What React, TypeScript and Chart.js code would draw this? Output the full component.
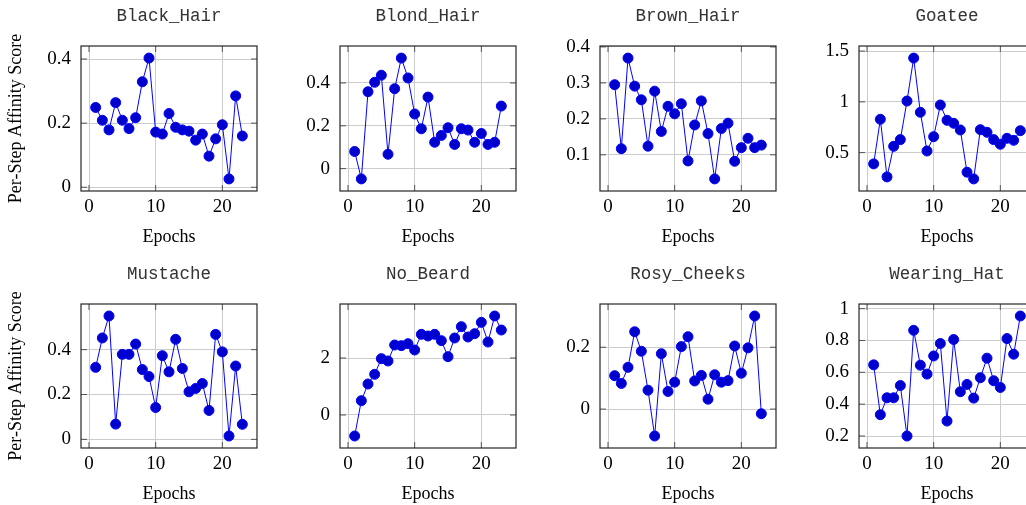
import React, { useEffect, useRef } from "react";
import { Chart, registerables } from "chart.js";

Chart.register(...registerables);

// ---------- data ----------
const epochs = [1, 2, 3, 4, 5, 6, 7, 8, 9, 10, 11, 12, 13, 14, 15, 16, 17, 18, 19, 20, 21, 22, 23];

const blackHair = [0.249, 0.209, 0.179, 0.264, 0.209, 0.183, 0.217, 0.329, 0.403, 0.172, 0.166, 0.23, 0.187, 0.179, 0.175, 0.147, 0.166, 0.097, 0.151, 0.195, 0.026, 0.285, 0.16];
const blondHair = [0.08, -0.048, 0.359, 0.403, 0.436, 0.067, 0.373, 0.516, 0.423, 0.255, 0.186, 0.334, 0.123, 0.155, 0.191, 0.113, 0.186, 0.18, 0.123, 0.164, 0.113, 0.123, 0.292];
const brownHair = [0.295, 0.117, 0.369, 0.291, 0.253, 0.124, 0.277, 0.165, 0.235, 0.214, 0.242, 0.083, 0.183, 0.25, 0.159, 0.033, 0.173, 0.188, 0.082, 0.12, 0.146, 0.12, 0.127];
const goatee = [0.389, 0.828, 0.261, 0.562, 0.628, 1.008, 1.431, 0.897, 0.516, 0.657, 0.969, 0.818, 0.789, 0.723, 0.307, 0.241, 0.726, 0.7, 0.628, 0.582, 0.641, 0.621, 0.716];
const mustache = [0.321, 0.452, 0.55, 0.068, 0.379, 0.379, 0.425, 0.311, 0.28, 0.142, 0.373, 0.301, 0.446, 0.316, 0.212, 0.227, 0.249, 0.129, 0.468, 0.39, 0.015, 0.327, 0.067];
const noBeard = [-0.737, 0.503, 1.088, 1.427, 1.977, 1.895, 2.456, 2.433, 2.503, 2.281, 2.83, 2.772, 2.83, 2.608, 2.047, 2.702, 3.099, 2.737, 2.854, 3.251, 2.561, 3.474, 2.982];
const rosyCheeks = [0.108, 0.083, 0.135, 0.25, 0.187, 0.061, -0.087, 0.179, 0.057, 0.087, 0.202, 0.234, 0.091, 0.109, 0.032, 0.111, 0.087, 0.092, 0.204, 0.116, 0.198, 0.301, -0.015];
const wearingHat = [0.647, 0.334, 0.44, 0.44, 0.517, 0.2, 0.864, 0.645, 0.589, 0.703, 0.781, 0.294, 0.806, 0.478, 0.524, 0.438, 0.566, 0.689, 0.547, 0.505, 0.812, 0.714, 0.954];

const titles = ["Black_Hair", "Blond_Hair", "Brown_Hair", "Goatee", "Mustache", "No_Beard", "Rosy_Cheeks", "Wearing_Hat"];

const blackHairTicks = [0, 0.2, 0.4];
const blondHairTicks = [0, 0.2, 0.4];
const brownHairTicks = [0.1, 0.2, 0.3, 0.4];
const goateeTicks = [0.5, 1, 1.5];
const mustacheTicks = [0, 0.2, 0.4];
const noBeardTicks = [0, 2];
const rosyCheeksTicks = [0, 0.2];
const wearingHatTicks = [0.2, 0.4, 0.6, 0.8, 1];
const xTicks = [0, 10, 20];

const yTitle = "Per-Step Affinity Score";
const xTitle = "Epochs";

const seriesList = [blackHair, blondHair, brownHair, goatee, mustache, noBeard, rosyCheeks, wearingHat];
const tickList = [blackHairTicks, blondHairTicks, brownHairTicks, goateeTicks, mustacheTicks, noBeardTicks, rosyCheeksTicks, wearingHatTicks];

// ---------- layout ----------
const ENLARGE = 0.1;
const Y_W = 81;
const PLOT_W = 176;
const TITLE_H = 46;
const X_H = 61;
const COL_LEFT = [0, 259, 519, 778];
const ROW_TOP = [0, 258];
const ROW_PLOT_H = [145, 144];
const TICK_LEN = 6;

const serif = "'Liberation Serif', 'Times New Roman', serif";
const mono = "'Liberation Mono', 'Courier New', monospace";

const framePlugin = {
  id: "pgfFrame",
  beforeDatasetsDraw(chart: any) {
    const { ctx, chartArea: a, scales } = chart;
    ctx.save();
    ctx.strokeStyle = "#555";
    ctx.lineWidth = 1;
    const line = (x1: number, y1: number, x2: number, y2: number) => {
      ctx.beginPath();
      ctx.moveTo(x1, y1);
      ctx.lineTo(x2, y2);
      ctx.stroke();
    };
    for (const t of scales.y.ticks) {
      const p = scales.y.getPixelForValue(t.value);
      line(a.left, p, a.left + TICK_LEN, p);
      line(a.right - TICK_LEN, p, a.right, p);
    }
    for (const t of scales.x.ticks) {
      const p = scales.x.getPixelForValue(t.value);
      line(p, a.bottom, p, a.bottom - TICK_LEN);
      line(p, a.top, p, a.top + TICK_LEN);
    }
    ctx.strokeStyle = "#262626";
    ctx.lineWidth = 1.2;
    ctx.strokeRect(a.left, a.top, a.right - a.left, a.bottom - a.top);
    ctx.restore();
  },
};

function Panel({ index }: { index: number }) {
  const ref = useRef<HTMLCanvasElement>(null);
  const col = index % 4;
  const row = Math.floor(index / 4);
  const width = Y_W + PLOT_W + Y_W;
  const height = TITLE_H + ROW_PLOT_H[row] + X_H;

  useEffect(() => {
    const values = seriesList[index];
    const yTicks = tickList[index];
    const lo = Math.min(...values);
    const hi = Math.max(...values);
    const yPad = (hi - lo) * ENLARGE;
    const xlo = Math.min(...epochs);
    const xhi = Math.max(...epochs);
    const xPad = (xhi - xlo) * ENLARGE;
    const fmt = (v: any) => String(Number(v));

    const chart = new Chart(ref.current as HTMLCanvasElement, {
      type: "line",
      data: {
        datasets: [
          {
            data: epochs.map((e, i) => ({ x: e, y: values[i] })),
            borderColor: "#0000ff",
            borderWidth: 1,
            backgroundColor: "#0000cc",
            pointBackgroundColor: "#0000cc",
            pointBorderColor: "#0000ff",
            pointBorderWidth: 1,
            pointRadius: 5,
            tension: 0,
            fill: false,
          },
        ],
      },
      options: {
        responsive: false,
        animation: false,
        devicePixelRatio: 1,
        layout: { padding: 0 },
        plugins: {
          legend: { display: false },
          tooltip: { enabled: false },
          title: {
            display: true,
            text: titles[index],
            color: "#333",
            font: { family: mono, size: 17.5, weight: "normal" },
            padding: { top: 5.5, bottom: 19.5 },
          },
        },
        scales: {
          x: {
            type: "linear",
            min: xlo - xPad,
            max: xhi + xPad,
            bounds: "data",
            afterBuildTicks: (s: any) => {
              s.ticks = xTicks.map((v) => ({ value: v }));
            },
            afterFit: (s: any) => {
              s.height = X_H;
            },
            grid: { color: "#cccccc", lineWidth: 1, drawTicks: false },
            border: { display: false },
            ticks: {
              autoSkip: false,
              maxRotation: 0,
              padding: 4.5,
              color: "#000",
              font: { family: serif, size: 19 },
              callback: fmt,
            },
            title: {
              display: true,
              text: xTitle,
              color: "#000",
              font: { family: serif, size: 18 },
              padding: { top: 0, bottom: 4.2 },
            },
          },
          y: {
            type: "linear",
            position: "left",
            min: lo - yPad,
            max: hi + yPad,
            bounds: "data",
            afterBuildTicks: (s: any) => {
              s.ticks = yTicks.map((v) => ({ value: v }));
            },
            afterFit: (s: any) => {
              s.width = Y_W;
            },
            grid: { color: "#cccccc", lineWidth: 1, drawTicks: false },
            border: { display: false },
            ticks: {
              autoSkip: false,
              padding: 10,
              color: "#000",
              font: { family: serif, size: 19 },
              callback: fmt,
            },
            title: {
              display: col === 0,
              text: yTitle,
              color: "#000",
              font: { family: serif, size: 18 },
              padding: { top: 5.2, bottom: 0 },
            },
          },
          // empty right-hand spacer so the title centres over the plot area
          ySpacer: {
            type: "linear",
            position: "right",
            display: true,
            min: 0,
            max: 1,
            afterFit: (s: any) => {
              s.width = Y_W;
            },
            grid: { display: false, drawTicks: false },
            border: { display: false },
            ticks: { display: false },
          },
        },
      },
      plugins: [framePlugin],
    } as any);
    return () => chart.destroy();
  }, [index]);

  return (
    <canvas
      ref={ref}
      width={width}
      height={height}
      style={{
        position: "absolute",
        left: COL_LEFT[col],
        top: ROW_TOP[row],
        width,
        height,
      }}
    />
  );
}

export default function App() {
  return (
    <div
      style={{
        position: "fixed",
        left: 0,
        top: 0,
        width: 1026,
        height: 505,
        overflow: "hidden",
        background: "#fff",
      }}
    >
      {titles.map((_, i) => (
        <Panel key={i} index={i} />
      ))}
    </div>
  );
}
